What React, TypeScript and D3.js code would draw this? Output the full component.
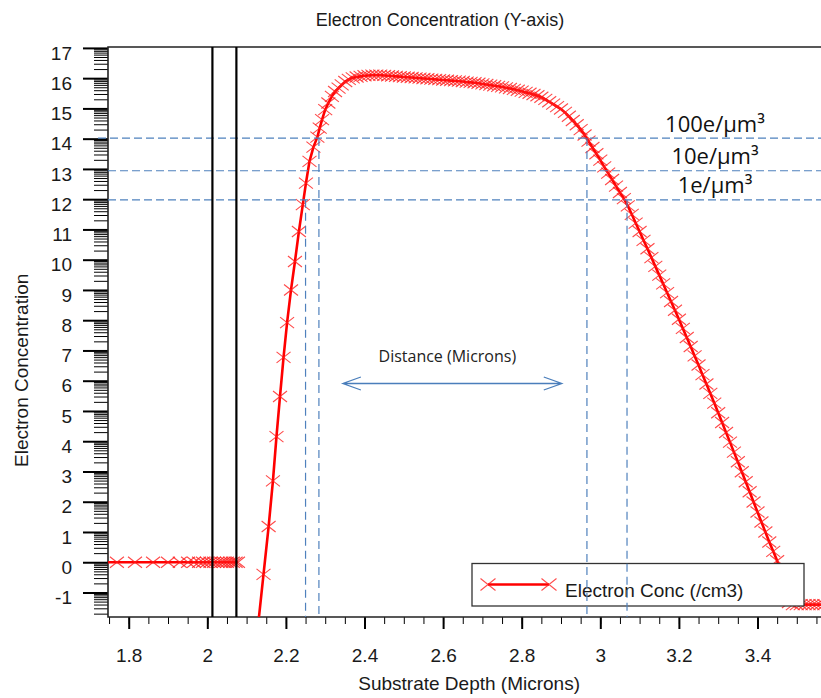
import React, { useEffect, useRef } from 'react';
import * as d3 from 'd3';

// left (surface) series, sits on zero
const surfaceDepth = [1.72, 1.770, 1.816, 1.862, 1.900, 1.930, 1.951, 1.966, 1.979, 1.989, 1.999, 2.008, 2.017, 2.026, 2.035, 2.042, 2.050, 2.058, 2.065, 2.072, 2.078];
const surfaceConc = [0, 0, 0, 0, 0, 0, 0, 0, 0, 0, 0, 0, 0, 0, 0, 0, 0, 0, 0, 0, 0];

// main profile: rise
const riseDepth = [2.125, 2.143, 2.156, 2.167, 2.176, 2.185, 2.194, 2.203, 2.213, 2.223, 2.233, 2.243, 2.251, 2.260, 2.270, 2.280, 2.286, 2.292, 2.300, 2.308, 2.317, 2.325, 2.334, 2.342, 2.351];
const riseConc = [-2.6, -0.40, 1.18, 2.69, 4.15, 5.48, 6.77, 7.92, 9.00, 9.94, 10.93, 11.82, 12.53, 13.25, 13.72, 14.05, 14.35, 14.63, 14.96, 15.18, 15.40, 15.56, 15.67, 15.78, 15.89];

// plateau
const topDepth = [2.36, 2.37, 2.38, 2.39, 2.40, 2.41, 2.42, 2.43, 2.44, 2.45, 2.46, 2.47, 2.48, 2.49, 2.50, 2.51, 2.52, 2.53, 2.54, 2.55, 2.56, 2.57, 2.58, 2.59, 2.60, 2.61, 2.62, 2.63, 2.64, 2.65, 2.66, 2.67, 2.68, 2.69, 2.70, 2.71, 2.72, 2.73, 2.74, 2.75, 2.76, 2.77, 2.78, 2.79, 2.80, 2.81, 2.82, 2.83, 2.84, 2.85, 2.86, 2.87, 2.88, 2.89, 2.90, 2.91, 2.92, 2.93, 2.94, 2.95, 2.96];
const topConc = [15.96, 16.01, 16.04, 16.06, 16.08, 16.09, 16.10, 16.10, 16.10, 16.09, 16.08, 16.07, 16.06, 16.05, 16.04, 16.03, 16.02, 16.01, 16.00, 15.99, 15.98, 15.97, 15.96, 15.95, 15.94, 15.93, 15.92, 15.91, 15.90, 15.89, 15.87, 15.86, 15.85, 15.83, 15.81, 15.79, 15.77, 15.75, 15.73, 15.71, 15.68, 15.66, 15.63, 15.60, 15.57, 15.53, 15.50, 15.46, 15.42, 15.37, 15.30, 15.22, 15.14, 15.06, 14.98, 14.87, 14.74, 14.60, 14.46, 14.30, 14.12];

// tail
const fallDepth = [2.97, 2.98, 2.99, 3.00, 3.01, 3.02, 3.03, 3.04, 3.05, 3.06, 3.07, 3.08, 3.09, 3.10, 3.11, 3.12, 3.13, 3.14, 3.15, 3.16, 3.17, 3.18, 3.19, 3.20, 3.21, 3.22, 3.23, 3.24, 3.25, 3.26, 3.27, 3.28, 3.29, 3.30, 3.31, 3.32, 3.33, 3.34, 3.35, 3.36, 3.37, 3.38, 3.39, 3.40, 3.41, 3.42, 3.43, 3.44, 3.45, 3.46, 3.47, 3.48, 3.49, 3.50, 3.51, 3.52, 3.53, 3.54, 3.55, 3.56, 3.57];
const fallConc = [13.92, 13.71, 13.50, 13.29, 13.07, 12.86, 12.65, 12.43, 12.22, 12.02, 11.78, 11.50, 11.21, 10.93, 10.64, 10.36, 10.07, 9.78, 9.49, 9.20, 8.91, 8.62, 8.33, 8.03, 7.73, 7.43, 7.13, 6.82, 6.52, 6.20, 5.89, 5.58, 5.26, 4.94, 4.62, 4.29, 3.97, 3.64, 3.32, 2.99, 2.66, 2.33, 1.99, 1.66, 1.33, 1.00, 0.67, 0.36, 0.05, -0.48, -1.02, -1.33, -1.40, -1.40, -1.40, -1.40, -1.40, -1.40, -1.40, -1.40, -1.40];

const xMajorTicks = [1.8, 2, 2.2, 2.4, 2.6, 2.8, 3, 3.2, 3.4];
const yMajorTicks = [-1, 0, 1, 2, 3, 4, 5, 6, 7, 8, 9, 10, 11, 12, 13, 14, 15, 16, 17];

// reference levels and where they cut the profile
const levelValues = [14.02, 12.94, 11.98];
const levelLabels = ['100e/\u00b5m\u00b3', '10e/\u00b5m\u00b3', '1e/\u00b5m\u00b3'];
const cutDepths = [2.250, 2.284, 2.966, 3.068];
const cutLevels = [11.98, 14.02, 14.02, 11.98];
const layerEdges = [2.013, 2.074];

const W = 821;
const H = 698;
const L = 108, R = 821, T = 47, B = 617;
const num = 'Liberation Sans, Arial, sans-serif';
const cal = 'Open Sans, Noto Sans, sans-serif';
const blue = '#4f81bd';

function App() {
    const ref = useRef<SVGSVGElement>(null);

    useEffect(() => {
        const svg = d3.select(ref.current);
        svg.selectAll('*').remove();

        const x = d3.scaleLinear().domain([1.7473, 3.5616]).range([L, R]);
        const y = d3.scaleLinear().domain([-1.81, 17.03]).range([B, T]);

        svg.append('defs').append('clipPath').attr('id', 'plot')
            .append('rect').attr('x', L).attr('y', T).attr('width', R - L).attr('height', B - T);

        // y axis: log style minor ticks
        const yMinor: number[] = [];
        for (let n = -2; n < 17; n++) {
            for (let k = 2; k <= 9; k++) {
                const v = n + Math.log10(k);
                if (v > -1.81 && v < 17.03) yMinor.push(v);
            }
        }
        svg.append('g')
            .attr('transform', `translate(${L},0)`)
            .call(d3.axisLeft(y).tickValues(yMinor).tickSize(14).tickFormat(() => ''))
            .call(g => g.select('.domain').remove())
            .selectAll('line').attr('stroke', '#000').attr('stroke-width', 1);

        const ya = svg.append('g')
            .attr('transform', `translate(${L},0)`)
            .call(d3.axisLeft(y).tickValues(yMajorTicks).tickSize(25).tickPadding(11).tickFormat(d => String(d)))
            .call(g => g.select('.domain').remove());
        ya.selectAll('line').attr('stroke', '#000').attr('stroke-width', 2);
        ya.selectAll('text').attr('y', 5).attr('fill', '#1a1a1a')
            .style('font-family', num).style('font-size', '19px');

        // x axis
        const xMinor = d3.range(35, 72).map(i => i * 0.05).filter(v => x(v) > L + 0.5 && x(v) < R);
        svg.append('g')
            .attr('transform', `translate(0,${B})`)
            .call(d3.axisBottom(x).tickValues(xMinor).tickSize(7).tickFormat(() => ''))
            .call(g => g.select('.domain').remove())
            .selectAll('line').attr('stroke', '#000').attr('stroke-width', 1);

        const xa = svg.append('g')
            .attr('transform', `translate(0,${B})`)
            .call(d3.axisBottom(x).tickValues(xMajorTicks).tickSize(12).tickPadding(20).tickFormat(d => String(+(+d).toFixed(1))))
            .call(g => g.select('.domain').remove());
        xa.selectAll('line').attr('stroke', '#000').attr('stroke-width', 2);
        xa.selectAll('text').attr('fill', '#1a1a1a')
            .style('font-family', num).style('font-size', '19px');

        // frame
        svg.append('path')
            .attr('d', `M${R},${T}H${L}V${B}H${R}`)
            .attr('fill', 'none').attr('stroke', '#222').attr('stroke-width', 1.6);

        // titles
        svg.append('text').attr('x', 440).attr('y', 26).attr('text-anchor', 'middle')
            .style('font-family', num).style('font-size', '18px').attr('fill', '#1a1a1a')
            .text('Electron Concentration (Y-axis)');
        svg.append('text').attr('x', 580).attr('y', 690).attr('text-anchor', 'end')
            .style('font-family', num).style('font-size', '19px').attr('fill', '#1a1a1a')
            .text('Substrate Depth (Microns)');
        svg.append('text').attr('transform', 'translate(28,467) rotate(-90)')
            .style('font-family', num).style('font-size', '19px').attr('fill', '#1a1a1a')
            .text('Electron Concentration');

        // series
        const surface = surfaceDepth.map((d, i) => [d, surfaceConc[i]] as [number, number]);
        const main = [
            ...riseDepth.map((d, i) => [d, riseConc[i]]),
            ...topDepth.map((d, i) => [d, topConc[i]]),
            ...fallDepth.map((d, i) => [d, fallConc[i]]),
        ] as [number, number][];

        const line = d3.line<[number, number]>().x(d => x(d[0])).y(d => y(d[1]));
        const plot = svg.append('g').attr('clip-path', 'url(#plot)');
        const cross = 'M-7,-5.5L7,5.5M-7,5.5L7,-5.5';

        [surface, main].forEach(s => {
            plot.append('path').datum(s).attr('d', line)
                .attr('fill', 'none').attr('stroke', '#ff0000').attr('stroke-width', 2.6);
            plot.selectAll(null).data(s).enter().append('path')
                .attr('transform', d => `translate(${x(d[0])},${y(d[1])})`)
                .attr('d', cross)
                .attr('fill', 'none').attr('stroke', '#ff1a1a').attr('stroke-opacity', 0.8).attr('stroke-width', 1.1);
        });

        // legend
        const lg = svg.append('g');
        lg.append('rect').attr('x', 472).attr('y', 563.5).attr('width', 332).attr('height', 42.5)
            .attr('fill', '#fff').attr('stroke', '#333').attr('stroke-width', 1.3);
        lg.append('line').attr('x1', 488).attr('x2', 549).attr('y1', 584.5).attr('y2', 584.5)
            .attr('stroke', '#ff0000').attr('stroke-width', 2.6);
        [488, 549].forEach(cx => {
            lg.append('path').attr('transform', `translate(${cx},584.5)`).attr('d', 'M-7.5,-6L7.5,6M-7.5,6L7.5,-6')
                .attr('fill', 'none').attr('stroke', '#ff2020').attr('stroke-opacity', 0.8).attr('stroke-width', 1.1);
        });
        lg.append('text').attr('x', 565).attr('y', 597)
            .style('font-family', num).style('font-size', '19px').attr('fill', '#1a1a1a')
            .text('Electron Conc (/cm3)');

        // reference levels
        levelValues.forEach((v, i) => {
            svg.append('line').attr('x1', i === 0 ? 98 : L).attr('x2', R)
                .attr('y1', y(v)).attr('y2', y(v))
                .attr('stroke', blue).attr('stroke-width', 1.2).attr('stroke-dasharray', '8,4');
            svg.append('text').attr('x', 715).attr('y', y(v) - 6.5).attr('text-anchor', 'middle')
                .style('font-family', cal).style('font-size', '22px').attr('fill', '#111')
                .text(levelLabels[i]);
        });
        cutDepths.forEach((d, i) => {
            svg.append('line').attr('x1', x(d)).attr('x2', x(d))
                .attr('y1', y(cutLevels[i])).attr('y2', B)
                .attr('stroke', blue).attr('stroke-width', 1.2).attr('stroke-dasharray', '8,5');
        });

        // distance arrow
        const ax0 = x(2.345), ax1 = x(2.902), ay = 383.5;
        svg.append('path')
            .attr('d', `M${ax0},${ay}H${ax1}M${ax0 + 18},${ay - 6.5}L${ax0},${ay}L${ax0 + 18},${ay + 6.5}M${ax1 - 18},${ay - 6.5}L${ax1},${ay}L${ax1 - 18},${ay + 6.5}`)
            .attr('fill', 'none').attr('stroke', '#4a7ebb').attr('stroke-width', 1.3);
        svg.append('text').attr('x', (ax0 + ax1) / 2 - 5).attr('y', 362).attr('text-anchor', 'middle')
            .style('font-family', cal).style('font-size', '16px').attr('fill', '#222')
            .text('Distance (Microns)');

        // layer edges
        layerEdges.forEach(d => {
            svg.append('line').attr('x1', x(d)).attr('x2', x(d)).attr('y1', T).attr('y2', B)
                .attr('stroke', '#000').attr('stroke-width', 2.2);
        });
    }, []);

    return (
        <svg ref={ref} width={W} height={H}
            style={{ position: 'absolute', left: 0, top: 0, background: '#fff' }} />
    );
}

export default App;
